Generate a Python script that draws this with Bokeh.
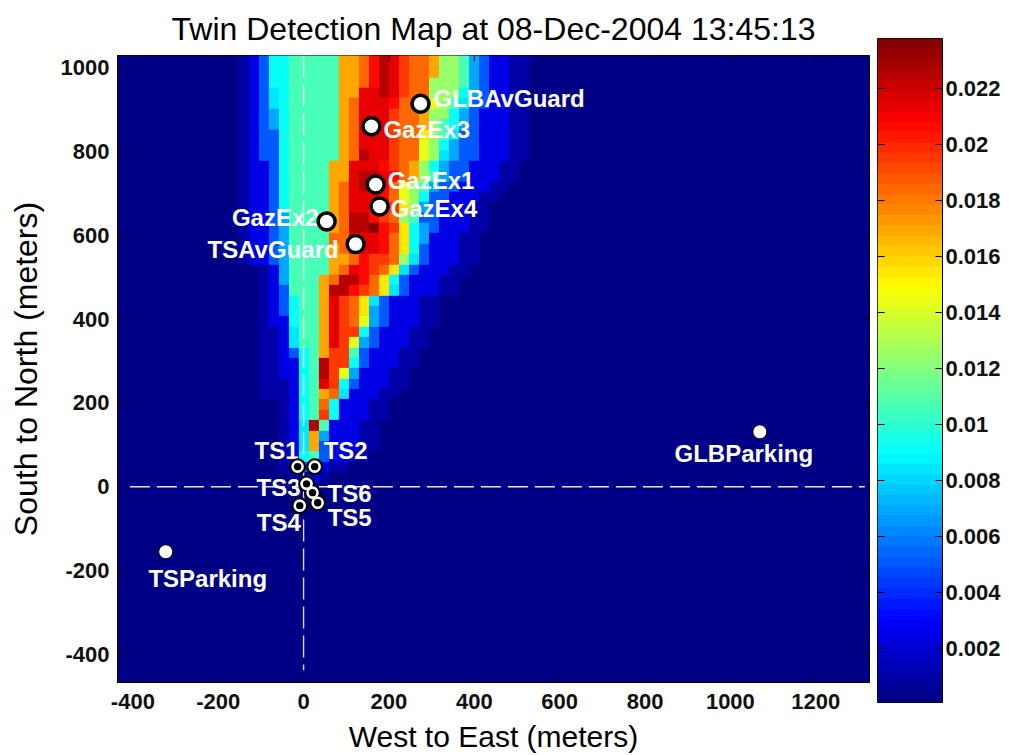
from bokeh.plotting import figure
from bokeh.layouts import row, column
from bokeh.models import Range1d, FixedTicker, LinearAxis, LinearColorMapper, ColumnDataSource
from bokeh.core.properties import value
from bokeh.embed import file_html
from bokeh.resources import INLINE
import numpy as np

# ---------- data ----------
title_text = "Twin Detection Map at 08-Dec-2004 13:45:13"
x_label = "West to East (meters)"
y_label = "South to North (meters)"
x_ticks = [-400, -200, 0, 200, 400, 600, 800, 1000, 1200]
y_ticks = [-400, -200, 0, 200, 400, 600, 800, 1000]
cbar_ticks = [0.002, 0.004, 0.006, 0.008, 0.01, 0.012, 0.014, 0.016, 0.018, 0.02, 0.022]
cbar_tick_labels = ["0.002", "0.004", "0.006", "0.008", "0.01", "0.012", "0.014", "0.016", "0.018", "0.02", "0.022"]
value_low, value_high = 0.00007, 0.02379

# detection value of each level letter used in the table below
level_values = dict(a=0.0003, b=0.0011, c=0.0023, d=0.005, e=0.007, f=0.0085, g=0.009,
                    h=0.0105, i=0.0125, j=0.0145, k=0.0155, l=0.017, m=0.0185, n=0.0195,
                    o=0.0205, p=0.0215, q=0.0225, r=0.0235)

# levels read cell by cell, north to south; each row = 4 cells west of the wedge + 28 cells
wedge_rows = [
    "abcd" "gghhhhhllmoqpnmmliihedccbbaa",
    "abcd" "gghhhhhllmoqpnmmliihedccbbaa",
    "abcd" "gghhhhhllmoqpnmmliihedccbbaa",
    "abcd" "gghhhhhllmoqpnmmiiihedccbbaa",
    "abcd" "fghhhhhllppqpnmmiiigedccbbaa",
    "abcd" "fghhhhhlmpppommmjihfddccbbaa",
    "abcd" "eghhhhhlmpppnmmliigedcccbbaa",
    "abcd" "eghhhhhlmpppnmmlihgedcccbbaa",
    "abcd" "dghhhhhlmpppnmmkihfddcccbbaa",
    "abcd" "dghhhhhlmpppnmmjigeddcccbbaa",
    "abcd" "dghhhhhlmqppnmmjifeddcccbbaa",
    "abcc" "dghhhhllppponmligeddcccbbaaa",
    "abcc" "dghhhhllpqqpomliheddcccbbaaa",
    "abcc" "dghhhhlmpqpomjiheddcccbbaaaa",
    "abcc" "dghhhhlmpppomjigddcccbbaaaaa",
    "abcc" "dghhhhlmpponnkiedcccbbaaaaaa",
    "abcc" "dehhhhlmqqonmihddcccbbaaaaaa",
    "abcc" "dehhhhlmqqronkgedcccbbaaaaaa",
    "abcc" "dehhhhmmpppomkgecccbbaaaaaaa",
    "abcc" "dehhhhlmoppomkgdcccbbaaaaaaa",
    "abcc" "dehhhhllmonnmifdcccbbaaaaaaa",
    "aaab" "cehhhhlmponmkfdcccbbaaaaaaaa",
    "aaab" "cehhhlmqqomkgdcccbbaaaaaaaaa",
    "aaab" "cdhhhlqqonmkfdcccbbaaaaaaaaa",
    "aaab" "cdghhlpnmkfdcccbbaaaaaaaaaaa",
    "aaab" "cdghhlpnmkedcccbbaaaaaaaaaaa",
    "aaab" "ccghhlpnmjedcccbbaaaaaaaaaaa",
    "aaab" "bcfhhlpnngdcccbbaaaaaaaaaaaa",
    "aaab" "bcfhhlpnjedcccbbaaaaaaaaaaaa",
    "aaab" "bcdghlnnhdcccbbaaaaaaaaaaaaa",
    "aaab" "bccghqnngdcccbbaaaaaaaaaaaaa",
    "aaab" "bccghqnjecccbbaaaaaaaaaaaaaa",
    "aaab" "bbcghpngdcccbbaaaaaaaaaaaaaa",
    "aaab" "bbcghlmfcccbbaaaaaaaaaaaaaaa",
    "aaaa" "abcghmgcccbbaaaaaaaaaaaaaaaa",
    "aaaa" "abcghngcccbbaaaaaaaaaaaaaaaa",
    "aaaa" "abcfqhcccbbaaaaaaaaaaaaaaaaa",
    "aaaa" "abcflecccbbaaaaaaaaaaaaaaaaa",
    "aaaa" "abcfldcccbbaaaaaaaaaaaaaaaaa",
    "aaaa" "abcghdccbbaaaaaaaaaaaaaaaaaa",
    "aaaa" "abbdecbbaaaaaaaaaaaaaaaaaaaa",
    "aaaa" "aabbcbaaaaaaaaaaaaaaaaaaaaaa",
]

# grid of the detection map (metres)
cell_w, cell_h = 23.44, 24.76
grid_cols, grid_rows = 76, 62
wedge_first_col = 12
grid_left, grid_top = -456.3, 1050.0

big_names = ["GLBAvGuard", "GazEx3", "GazEx1", "GazEx4", "GazEx2", "TSAvGuard"]
big_x = [274, 159, 169, 178, 54, 122]
big_y = [914, 860, 721, 669, 633, 579]
big_dx = [13, 12, 12, 11, -8, -17]
big_dy = [-5, 3, -4, 2, -4, 5]
big_align = ["left", "left", "left", "left", "right", "right"]

park_names = ["GLBParking", "TSParking"]
park_x = [1069, -323]
park_y = [131, -155]
park_dx = [-16, 42]
park_dy = [22, 27]
park_align = ["center", "center"]

ts_names = ["TS1", "TS2", "TS3", "TS4", "TS5", "TS6"]
ts_x = [-14, 26, 7, -9, 33, 21]
ts_y = [48, 48, 7, -45, -38, -14]
ts_dx = [1, 9, -6, 1, 10, 15]
ts_dy = [-16, -16, 4, 17, 15, 1]
ts_align = ["right", "left", "right", "right", "left", "left"]

# ---------- colour map ----------
def jet_colour(t):
    r = min(4 * t - 1.5, -4 * t + 4.5)
    g = min(4 * t - 0.5, -4 * t + 3.5)
    b = min(4 * t + 0.5, -4 * t + 2.5)
    c = [int(round(255 * max(0, min(1, k)))) for k in (r, g, b)]
    return "#%02x%02x%02x" % tuple(c)

palette = [jet_colour((i + 0.5) / 64) for i in range(64)]
mapper = LinearColorMapper(palette=palette, low=value_low, high=value_high)

grid = np.full((grid_rows, grid_cols), level_values["a"])
for r, letters in enumerate(wedge_rows):
    for c, letter in enumerate(letters):
        grid[r, wedge_first_col + c] = level_values[letter]
grid = grid[::-1]

FONT = "Liberation Sans"
TICK_SIZE = "22px"
X_LOW, X_HIGH, Y_LOW, Y_HIGH = -436, 1326, -467, 1029

# ---------- map ----------
p = figure(width=873, height=755, output_backend="svg", toolbar_location=None,
           x_range=Range1d(X_LOW, X_HIGH), y_range=Range1d(Y_LOW, Y_HIGH),
           min_border_left=117, min_border_right=4, min_border_top=54, min_border_bottom=73,
           tools="")
p.grid.visible = False
p.image(image=[grid], x=grid_left, y=grid_top - grid_rows * cell_h,
        dw=grid_cols * cell_w, dh=grid_rows * cell_h, color_mapper=mapper)

p.title.text = title_text
p.title.align = "center"
p.title.text_font = FONT
p.title.text_font_style = "normal"
p.title.text_font_size = "32px"
p.title.text_color = "black"
p.title.standoff = 17

p.xaxis.ticker = FixedTicker(ticks=x_ticks)
p.yaxis.ticker = FixedTicker(ticks=y_ticks)
p.xaxis.major_label_overrides = {t: str(t) for t in x_ticks}
p.yaxis.major_label_overrides = {t: str(t) for t in y_ticks}
p.xaxis.axis_label = x_label
p.yaxis.axis_label = y_label
for ax in (p.xaxis[0], p.yaxis[0]):
    ax.major_tick_in = 6
    ax.major_tick_out = 0
    ax.minor_tick_in = 0
    ax.minor_tick_out = 0
    ax.major_tick_line_color = "black"
    ax.axis_line_color = "black"
    ax.major_label_text_font = FONT
    ax.major_label_text_font_style = "bold"
    ax.major_label_text_font_size = TICK_SIZE
    ax.major_label_text_color = "#111111"
    ax.axis_label_text_font = FONT
    ax.axis_label_text_font_style = "normal"
    ax.axis_label_text_color = "black"
p.xaxis.axis_label_text_font_size = "30px"
p.yaxis.axis_label_text_font_size = "32px"
p.xaxis.major_label_standoff = 11
p.xaxis.axis_label_standoff = 8
p.yaxis.major_label_standoff = 8
p.yaxis.axis_label_standoff = 14
p.outline_line_color = "black"

# box ticks along the top and right edges of the frame
n_x, n_y = len(x_ticks), len(y_ticks)
p.segment(x_ticks, [Y_HIGH] * n_x, x_ticks, [Y_HIGH - 14] * n_x, line_color="black", line_width=1)
p.segment([X_HIGH] * n_y, y_ticks, [X_HIGH - 14] * n_y, y_ticks, line_color="black", line_width=1)

# dashed cross at the origin
p.line([-407, 1315], [0, 0], line_color="white", line_width=1.6, line_dash="20 7", line_alpha=0.9)
p.line([0, 0], [1029, -438], line_color="white", line_width=1.4, line_dash="22 7", line_alpha=0.85)

def add_labels(names, xs, ys, dxs, dys, aligns, size):
    for align in sorted(set(aligns)):
        idx = [i for i, a in enumerate(aligns) if a == align]
        src = ColumnDataSource(dict(x=[xs[i] for i in idx], y=[ys[i] for i in idx],
                                    t=[names[i] for i in idx],
                                    dx=[dxs[i] for i in idx], dy=[dys[i] for i in idx]))
        p.text("x", "y", text="t", source=src, x_offset="dx", y_offset="dy",
               text_align=align, text_baseline="middle", text_color="white",
               text_font=value(FONT), text_font_style="bold", text_font_size=size)

# text sits under the site markers in the original
add_labels(big_names, big_x, big_y, big_dx, big_dy, big_align, "24px")
add_labels(park_names, park_x, park_y, park_dx, park_dy, park_align, "24px")
add_labels(ts_names, ts_x, ts_y, ts_dx, ts_dy, ts_align, "24px")

p.scatter(big_x, big_y, size=17, marker="circle", fill_color="white", line_color="black", line_width=3.5)
p.scatter(park_x, park_y, size=14, marker="circle", fill_color="white", line_color="black", line_width=1)
p.scatter(ts_x, ts_y, size=15, marker="circle", fill_color="black", line_color="black", line_width=2)
p.scatter(ts_x, ts_y, size=10, marker="circle", fill_color="black", line_color="white", line_width=2.6)

# ---------- colour bar ----------
ramp = np.linspace(value_low, value_high, 64).reshape(64, 1)
cb = figure(width=138, height=755, output_backend="svg", toolbar_location=None,
            x_range=Range1d(0, 1), y_range=Range1d(value_low, value_high),
            min_border_left=4, min_border_right=69, min_border_top=38, min_border_bottom=53,
            tools="")
cb.grid.visible = False
cb.xaxis.visible = False
cb.yaxis.visible = False
cb.image(image=[ramp], x=0, y=value_low, dw=1, dh=value_high - value_low, color_mapper=mapper)
cb.outline_line_color = "black"
n_c = len(cbar_ticks)
cb.segment([0] * n_c, cbar_ticks, [0.11] * n_c, cbar_ticks, line_color="black", line_width=1)
tick_map = dict(zip(cbar_ticks, cbar_tick_labels))
cb_right = LinearAxis(ticker=FixedTicker(ticks=cbar_ticks), major_label_overrides=tick_map,
                      major_tick_in=7, major_tick_out=0, minor_tick_in=0, minor_tick_out=0,
                      major_label_standoff=3, major_label_text_font=FONT,
                      major_label_text_font_style="bold", major_label_text_font_size=TICK_SIZE,
                      major_label_text_color="#111111", major_tick_line_color="black")
cb.add_layout(cb_right, "right")

layout = row(column(p), column(cb), spacing=0)
open("out.html", "w").write(file_html(layout, INLINE))
